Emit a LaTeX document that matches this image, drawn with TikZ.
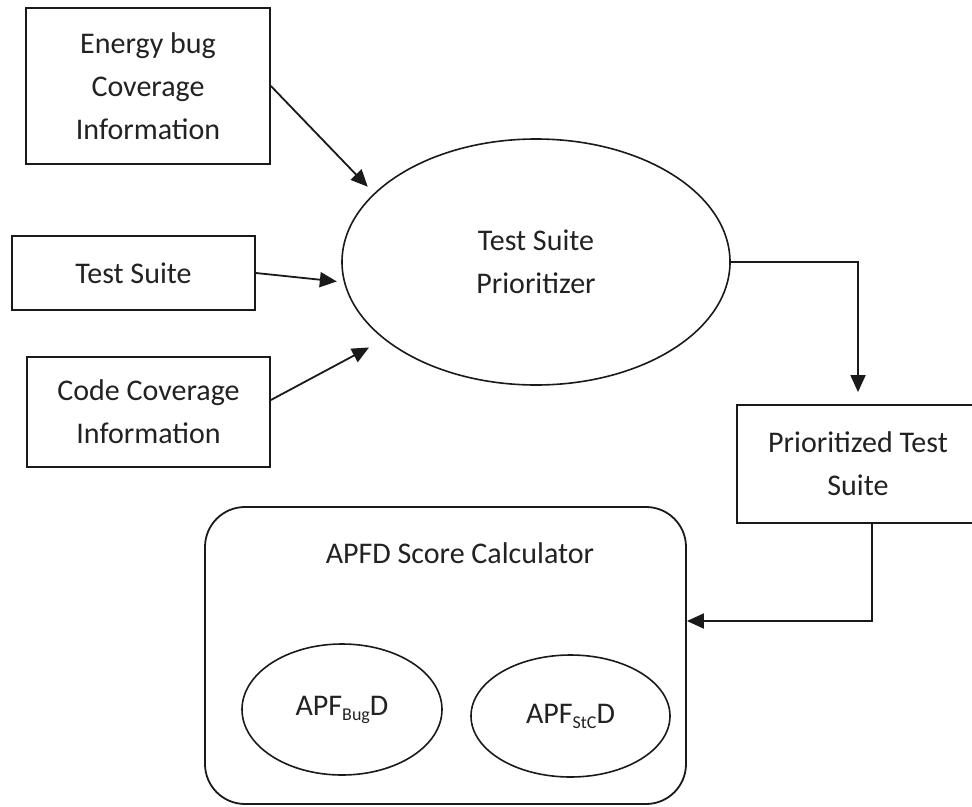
\documentclass[tikz,border=0pt]{standalone}
\usepackage{fontspec}
\setmainfont{Carlito}
\usetikzlibrary{shapes.geometric,arrows.meta,calc}

\definecolor{ink}{HTML}{1A1A1A}
\definecolor{txt}{HTML}{222222}

\newcommand{\subtxt}[1]{\raisebox{-5pt}{\fontsize{18}{18}\selectfont #1}}

\tikzset{
  every node/.style={text=txt, font=\fontsize{30}{43}\selectfont, align=center, inner sep=0pt},
  inbox/.style={draw=ink, line width=1.8pt, rectangle, minimum width=#1},
  inbox/.default=244pt,
  oval/.style={draw=ink, line width=1.6pt, ellipse},
  group/.style={draw=ink, line width=1.8pt, rectangle, rounded corners=40pt},
  link/.style={draw=ink, line width=1.8pt, -{Triangle[length=17pt,width=15pt]}},
}

\begin{document}
\begin{tikzpicture}[x=1pt,y=-1pt]
  \clip (0,0) rectangle (972,806);
  \fill[white] (0,0) rectangle (972,806);

  % input boxes
  \node[inbox, minimum height=156pt] (energy) at (148,86) {Energy bug\\Coverage\\Information};
  \node[inbox, minimum height=74pt, minimum width=243pt] (suite) at (133.5,273) {Test Suite};
  \node[inbox, minimum height=110pt, minimum width=243pt] (code) at (148.5,412) {Code Coverage\\Information};

  % prioritizer
  \node[oval, minimum width=388pt, minimum height=246pt] (prio) at (536,262) {Test Suite\\Prioritizer};

  % output box (runs past the right edge)
  \node[inbox, minimum height=118pt, minimum width=242pt] (out) at (858,464) {Prioritized Test\\Suite};

  % score calculator group
  \node[group, minimum width=481pt, minimum height=297pt] (calc) at (445.5,655.5) {};
  \node (calctitle) at (460,553) {APFD Score Calculator};
  \node[oval, minimum width=200pt, minimum height=131pt] (bug) at (342,709.5) {APF\subtxt{Bug}D};
  \node[oval, minimum width=199pt, minimum height=122pt] (stc) at (570.5,716) {APF\subtxt{StC}D};

  % connectors
  \draw[link, shorten >=9pt] (energy.east) -- (prio.157);
  \draw[link, shorten >=7pt] (suite.east) -- (prio.186);
  \draw[link, shorten >=17pt] ([yshift=12pt]code.east) -- (prio.207);
  \draw[link, shorten >=12pt] (prio.east) -| (out.north);
  \draw[link] ([xshift=14pt]out.south) |- ([yshift=34.5pt]calc.east);
\end{tikzpicture}
\end{document}
